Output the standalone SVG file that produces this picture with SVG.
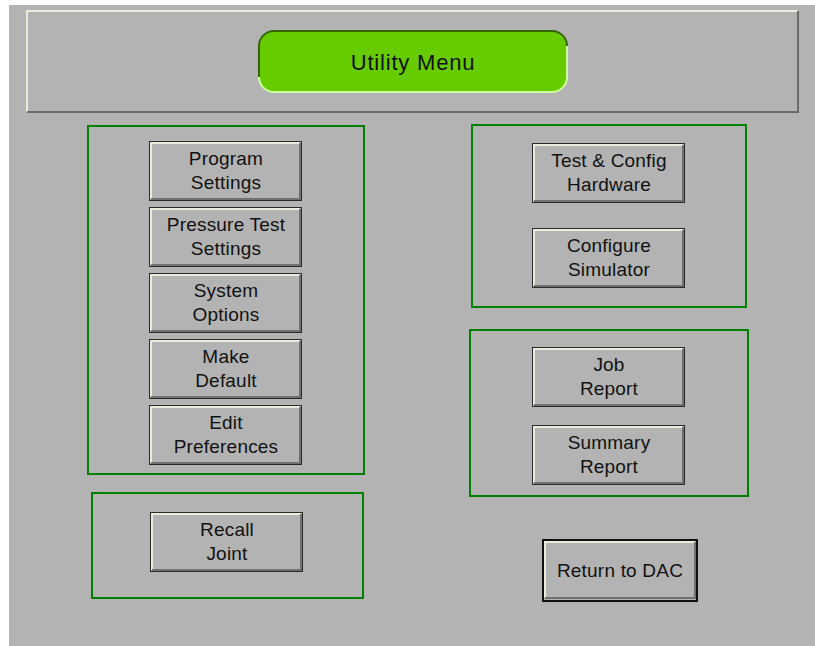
<svg xmlns="http://www.w3.org/2000/svg" width="815" height="646" viewBox="0 0 815 646">
<style>
.bg{fill:#b3b3b3}
.grp{fill:none;stroke:#008000;stroke-width:2}
.bo{fill:#b3b3b3;stroke:#2a2a2a;stroke-width:1}
.hi{fill:none;stroke:#ecebdc;stroke-width:2}
.sh{fill:none;stroke:#707070;stroke-width:2}
.t{font-family:"Liberation Sans",Arial,sans-serif;font-size:19px;letter-spacing:0.2px;fill:#111;text-anchor:middle}
.ttl{font-family:"Liberation Sans",Arial,sans-serif;font-size:22px;letter-spacing:0.8px;fill:#111;text-anchor:middle}
</style>
<rect x="0" y="0" width="815" height="646" fill="#ffffff"/>
<rect class="bg" x="9" y="5" width="806" height="641"/>

<g id="header">
  <rect x="26" y="10" width="773" height="103" fill="#b3b3b3"/>
  <polyline points="27,112 27,11 798,11" fill="none" stroke="#ecebdc" stroke-width="2"/>
  <polyline points="27,112 798,112 798,11" fill="none" stroke="#6a6a6a" stroke-width="2"/>
</g>

<g id="title">
  <rect x="259" y="31" width="308" height="61" rx="15" fill="#66cc00"/>
  <path d="M274,31 H552 A15,15 0 0 1 567,46 M259,77 V46 A15,15 0 0 1 274,31" fill="none" stroke="#336600" stroke-width="2"/>
  <path d="M567,46 V77 A15,15 0 0 1 552,92 H274 A15,15 0 0 1 259,77" fill="none" stroke="#ccff99" stroke-width="2"/>
  <text class="ttl" x="413" y="70">Utility Menu</text>
</g>

<g id="group-left">
  <rect class="grp" x="88" y="126" width="276" height="348"/>
</g>
<g id="group-recall">
  <rect class="grp" x="92" y="493" width="271" height="105"/>
</g>
<g id="group-hardware">
  <rect class="grp" x="472" y="125" width="274" height="182"/>
</g>
<g id="group-reports">
  <rect class="grp" x="470" y="330" width="278" height="166"/>
</g>

<g id="btn-program-settings">
  <rect class="bo" x="149.500" y="141.500" width="152" height="59"/>
  <polyline class="hi" points="151,199 151,143 300,143"/>
  <polyline class="sh" points="151,199 300,199 300,143"/>
  <text class="t" x="226" y="165">Program</text>
  <text class="t" x="226" y="189">Settings</text>
</g>
<g id="btn-pressure-test">
  <rect class="bo" x="149.500" y="207.500" width="152" height="59"/>
  <polyline class="hi" points="151,265 151,209 300,209"/>
  <polyline class="sh" points="151,265 300,265 300,209"/>
  <text class="t" x="226" y="231">Pressure Test</text>
  <text class="t" x="226" y="255">Settings</text>
</g>
<g id="btn-system-options">
  <rect class="bo" x="149.500" y="273.500" width="152" height="59"/>
  <polyline class="hi" points="151,331 151,275 300,275"/>
  <polyline class="sh" points="151,331 300,331 300,275"/>
  <text class="t" x="226" y="297">System</text>
  <text class="t" x="226" y="321">Options</text>
</g>
<g id="btn-make-default">
  <rect class="bo" x="149.500" y="339.500" width="152" height="59"/>
  <polyline class="hi" points="151,397 151,341 300,341"/>
  <polyline class="sh" points="151,397 300,397 300,341"/>
  <text class="t" x="226" y="363">Make</text>
  <text class="t" x="226" y="387">Default</text>
</g>
<g id="btn-edit-preferences">
  <rect class="bo" x="149.500" y="405.500" width="152" height="59"/>
  <polyline class="hi" points="151,463 151,407 300,407"/>
  <polyline class="sh" points="151,463 300,463 300,407"/>
  <text class="t" x="226" y="429">Edit</text>
  <text class="t" x="226" y="453">Preferences</text>
</g>
<g id="btn-recall-joint">
  <rect class="bo" x="150.500" y="512.500" width="152" height="59"/>
  <polyline class="hi" points="152,570 152,514 301,514"/>
  <polyline class="sh" points="152,570 301,570 301,514"/>
  <text class="t" x="227" y="536">Recall</text>
  <text class="t" x="227" y="560">Joint</text>
</g>
<g id="btn-test-config">
  <rect class="bo" x="532.500" y="143.500" width="152" height="59"/>
  <polyline class="hi" points="534,201 534,145 683,145"/>
  <polyline class="sh" points="534,201 683,201 683,145"/>
  <text class="t" x="609" y="167">Test &amp; Config</text>
  <text class="t" x="609" y="191">Hardware</text>
</g>
<g id="btn-configure-simulator">
  <rect class="bo" x="532.500" y="228.500" width="152" height="59"/>
  <polyline class="hi" points="534,286 534,230 683,230"/>
  <polyline class="sh" points="534,286 683,286 683,230"/>
  <text class="t" x="609" y="252">Configure</text>
  <text class="t" x="609" y="276">Simulator</text>
</g>
<g id="btn-job-report">
  <rect class="bo" x="532.500" y="347.500" width="152" height="59"/>
  <polyline class="hi" points="534,405 534,349 683,349"/>
  <polyline class="sh" points="534,405 683,405 683,349"/>
  <text class="t" x="609" y="371">Job</text>
  <text class="t" x="609" y="395">Report</text>
</g>
<g id="btn-summary-report">
  <rect class="bo" x="532.500" y="425.500" width="152" height="59"/>
  <polyline class="hi" points="534,483 534,427 683,427"/>
  <polyline class="sh" points="534,483 683,483 683,427"/>
  <text class="t" x="609" y="449">Summary</text>
  <text class="t" x="609" y="473">Report</text>
</g>
<g id="btn-return-dac">
  <rect x="543" y="540" width="154" height="61" fill="#b3b3b3" stroke="#111" stroke-width="2"/>
  <polyline class="hi" points="545,598 545,542 695,542"/>
  <polyline class="sh" points="545,598 695,598 695,542"/>
  <text class="t" x="620" y="577">Return to DAC</text>
</g>

<g id="connectors"></g>
</svg>
